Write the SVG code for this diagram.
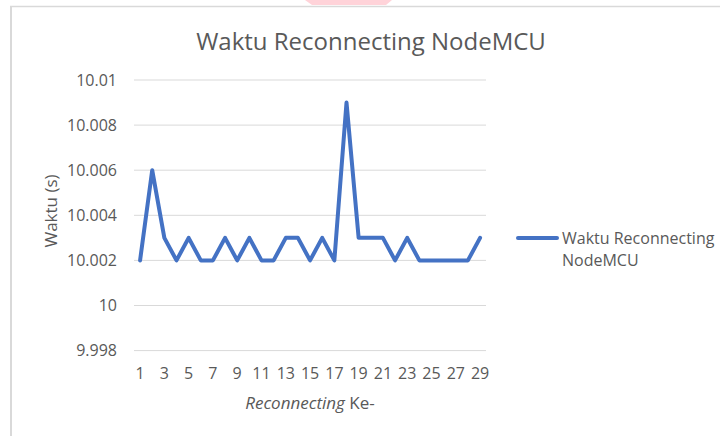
<svg xmlns="http://www.w3.org/2000/svg" width="720" height="436" viewBox="0 0 720 436">
<style>
text{font-family:"Open Sans","Liberation Sans",sans-serif;fill:#595959}
.grid{stroke:#d9d9d9;stroke-width:1}
.tick{font-size:16px}
.ylab{font-size:16px;text-anchor:end}
.xlab{font-size:16px;text-anchor:middle}
</style>
<rect width="720" height="436" fill="#ffffff"/>
<polygon points="305,0 392,0 386,5 312,5" fill="#ffd3d9"/>
<line x1="10" y1="6.5" x2="720" y2="6.5" stroke="#d9d9d9" stroke-width="1.5"/>
<line x1="11" y1="6" x2="11" y2="436" stroke="#d9d9d9" stroke-width="2"/>
<g id="title"><text x="371" y="50" font-size="24" text-anchor="middle">Waktu Reconnecting NodeMCU</text></g>
<g id="gridlines">
<line class="grid" x1="134" y1="80" x2="486" y2="80"/>
<line class="grid" x1="134" y1="125.1" x2="486" y2="125.1"/>
<line class="grid" x1="134" y1="170.2" x2="486" y2="170.2"/>
<line class="grid" x1="134" y1="215.3" x2="486" y2="215.3"/>
<line class="grid" x1="134" y1="260.4" x2="486" y2="260.4"/>
<line class="grid" x1="134" y1="305.5" x2="486" y2="305.5"/>
<line class="grid" x1="134" y1="350.6" x2="486" y2="350.6"/>
</g>
<g id="y-axis">
<text class="ylab" x="117" y="86">10.01</text>
<text class="ylab" x="117" y="131">10.008</text>
<text class="ylab" x="117" y="176">10.006</text>
<text class="ylab" x="117" y="221">10.004</text>
<text class="ylab" x="117" y="266">10.002</text>
<text class="ylab" x="117" y="311">10</text>
<text class="ylab" x="117" y="356">9.998</text>
<text x="57" y="211" font-size="17" text-anchor="middle" transform="rotate(-90 57 211)">Waktu (s)</text>
</g>
<g id="x-axis">
<text class="xlab" x="140.1" y="379">1</text>
<text class="xlab" x="164.4" y="379">3</text>
<text class="xlab" x="188.6" y="379">5</text>
<text class="xlab" x="212.9" y="379">7</text>
<text class="xlab" x="237.2" y="379">9</text>
<text class="xlab" x="261.5" y="379">11</text>
<text class="xlab" x="285.8" y="379">13</text>
<text class="xlab" x="310.1" y="379">15</text>
<text class="xlab" x="334.4" y="379">17</text>
<text class="xlab" x="358.6" y="379">19</text>
<text class="xlab" x="382.9" y="379">21</text>
<text class="xlab" x="407.2" y="379">23</text>
<text class="xlab" x="431.5" y="379">25</text>
<text class="xlab" x="455.8" y="379">27</text>
<text class="xlab" x="480.1" y="379">29</text>
<text x="310" y="409" font-size="17" text-anchor="middle"><tspan font-style="italic">Reconnecting</tspan> Ke-</text>
</g>
<g id="series">
<polyline fill="none" stroke="#4472c4" stroke-width="4" stroke-linejoin="round" stroke-linecap="round" points="140.07,260.4 152.21,170.2 164.36,237.85 176.5,260.4 188.64,237.85 200.79,260.4 212.93,260.4 225.07,237.85 237.21,260.4 249.36,237.85 261.5,260.4 273.64,260.4 285.79,237.85 297.93,237.85 310.07,260.4 322.21,237.85 334.36,260.4 346.5,102.55 358.64,237.85 370.79,237.85 382.93,237.85 395.07,260.4 407.21,237.85 419.36,260.4 431.5,260.4 443.64,260.4 455.79,260.4 467.93,260.4 480.07,237.85"/>
</g>
<g id="legend">
<line x1="518" y1="238" x2="557" y2="238" stroke="#4472c4" stroke-width="4" stroke-linecap="round"/>
<text x="562" y="244" font-size="16">Waktu Reconnecting</text>
<text x="562" y="266" font-size="16">NodeMCU</text>
</g>
</svg>
